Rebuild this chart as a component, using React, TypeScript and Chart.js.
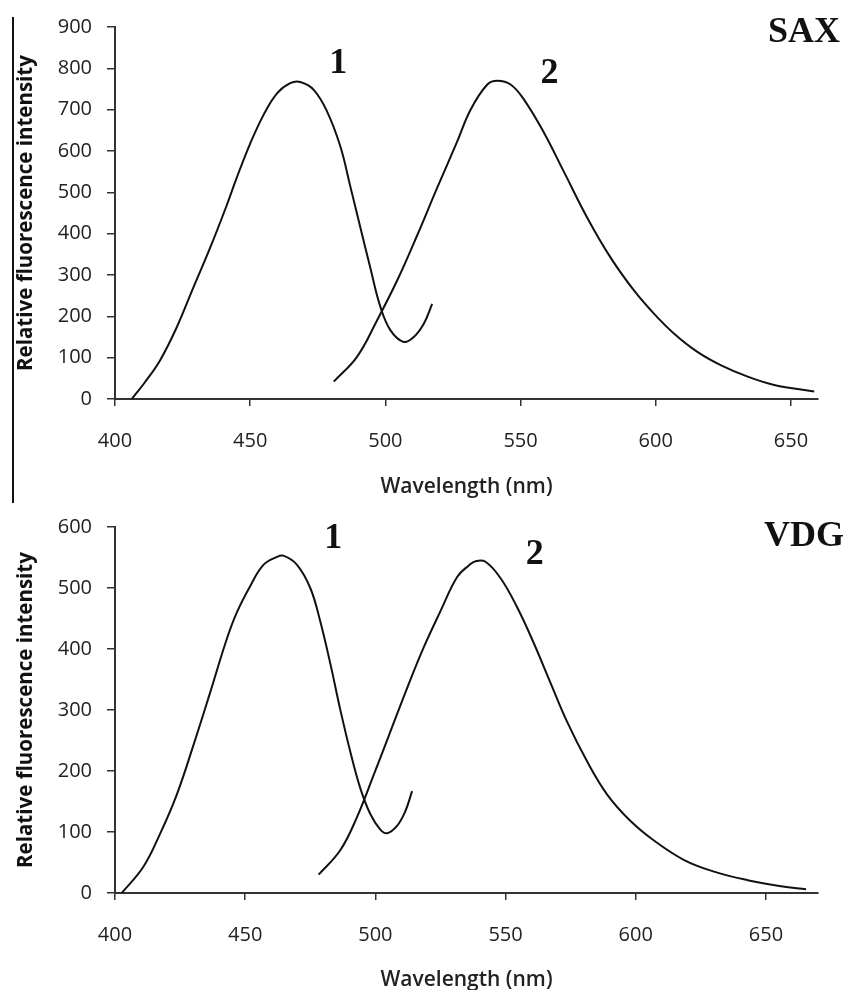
import React, { useEffect, useRef } from "react";
import { Chart, registerables } from "chart.js";

Chart.register(...registerables);

// ---- SAX (top panel) ----
const saxExWavelength = [406.2, 411, 416.7, 422.8, 429, 435.2, 441.4, 445, 450, 455, 460, 464.8, 468.5, 473.5, 478.4, 483.3, 487, 490.7, 494.4, 498.1, 501.9, 506.8, 510.5, 514.2, 517.3];
const saxExIntensity = [0, 40, 94, 173, 270, 366, 470, 535, 618, 688, 740, 764, 767, 748, 696, 612, 515, 416, 318, 224, 166, 138, 150, 182, 230];
const saxEmWavelength = [480.9, 489.5, 496.9, 504.3, 511.7, 519.1, 526.5, 531.5, 537.7, 541.4, 546.3, 551.2, 558.6, 566, 574.7, 583.3, 592, 599.4, 606.8, 615.4, 624, 634, 643.8, 658.6];
const saxEmIntensity = [42, 102, 190, 286, 395, 510, 622, 700, 761, 770, 761, 725, 645, 550, 438, 342, 262, 206, 158, 114, 82, 54, 34, 18];

// ---- VDG (bottom panel) ----
const vdgExWavelength = [402.6, 410.9, 417.3, 423.7, 430.1, 436.5, 442.9, 446.8, 451.9, 457, 462.2, 464.7, 469.9, 475, 478.8, 482.7, 486.5, 490.4, 494.2, 498.1, 501.9, 504.5, 508.3, 511.5, 514.1];
const vdgExIntensity = [0, 43, 97, 161, 242, 328, 416, 460, 503, 538, 551, 553, 538, 500, 446, 376, 301, 231, 172, 129, 104, 98, 110, 134, 167];
const vdgEmWavelength = [478.2, 486.5, 492.9, 499.4, 505.8, 512.2, 518.6, 525, 531.4, 535.9, 538.5, 542.3, 548.1, 554.5, 560.9, 567.3, 573.7, 581.4, 589.1, 598, 607, 618.6, 630.1, 643, 655.8, 665.4];
const vdgEmIntensity = [30, 70, 124, 194, 265, 336, 403, 462, 518, 537, 544, 543, 516, 468, 409, 344, 280, 215, 161, 118, 86, 54, 35, 21, 11, 6];

const xTitle = "Wavelength (nm)";
const yTitle = "Relative fluorescence intensity";

// text annotations, placed in data coordinates
const saxNotes = [
  { text: "1", x: 482.6, y: 811 },
  { text: "2", x: 560.7, y: 787 },
  { text: "SAX", x: 654.8, y: 886 },
];
const vdgNotes = [
  { text: "1", x: 483.8, y: 581 },
  { text: "2", x: 561.2, y: 555 },
  { text: "VDG", x: 664.6, y: 584 },
];

const toPoints = (xs: number[], ys: number[]) => xs.map((x, i) => ({ x, y: ys[i] }));

const notePlugin = {
  id: "notes",
  afterDraw(chart: any) {
    const notes = chart.options.plugins.notes?.items || [];
    const ctx = chart.ctx;
    ctx.save();
    ctx.fillStyle = "#111";
    ctx.font = 'bold 36px "Liberation Serif"';
    ctx.textAlign = "center";
    ctx.textBaseline = "middle";
    for (const n of notes) {
      ctx.fillText(n.text, chart.scales.x.getPixelForValue(n.x), chart.scales.y.getPixelForValue(n.y));
    }
    ctx.restore();
  },
};

function makeConfig(opts: {
  ex: { x: number; y: number }[];
  em: { x: number; y: number }[];
  xMax: number;
  yMax: number;
  padTop: number;
  xAxisHeight: number;
  xTitlePadBottom: number;
  notes: any[];
}) {
  const axisColor = "#333";
  const tickFont = { family: "'Open Sans'", size: 20 };
  const line = {
    borderColor: "#111",
    borderWidth: 2,
    pointRadius: 0,
    tension: 0.4,
    fill: false,
  };
  return {
    type: "line",
    data: {
      datasets: [
        { ...line, data: opts.ex },
        { ...line, data: opts.em },
      ],
    },
    options: {
      responsive: false,
      animation: false,
      events: [],
      layout: { padding: { left: 0, right: 28, top: opts.padTop, bottom: 0 } },
      plugins: {
        legend: { display: false },
        tooltip: { enabled: false },
        notes: { items: opts.notes },
      },
      scales: {
        x: {
          type: "linear",
          min: 400,
          max: opts.xMax,
          afterFit: (s: any) => { s.height = opts.xAxisHeight; },
          ticks: { stepSize: 50, includeBounds: false, color: "#222", font: tickFont, padding: 23, maxRotation: 0 },
          grid: { drawOnChartArea: false, drawTicks: true, tickLength: 7, color: axisColor, lineWidth: 1.5 },
          border: { display: true, color: axisColor, width: 2 },
          title: {
            display: true,
            text: xTitle,
            color: "#222",
            font: { family: "'Open Sans'", size: 21, weight: "600" },
            padding: { top: 0, bottom: opts.xTitlePadBottom },
          },
        },
        y: {
          type: "linear",
          min: 0,
          max: opts.yMax,
          afterFit: (s: any) => { s.width = 115; },
          ticks: { stepSize: 100, color: "#222", font: tickFont, padding: 15 },
          grid: { drawOnChartArea: false, drawTicks: true, tickLength: 8, color: axisColor, lineWidth: 1.5 },
          border: { display: true, color: axisColor, width: 2 },
          title: {
            display: true,
            text: yTitle,
            color: "#111",
            font: { family: "'Open Sans'", size: 20.5, weight: "bold" },
            padding: { top: 14, bottom: 0 },
          },
        },
      },
    },
    plugins: [notePlugin],
  } as any;
}

export default function App() {
  const topRef = useRef<HTMLCanvasElement>(null);
  const botRef = useRef<HTMLCanvasElement>(null);

  useEffect(() => {
    const top = new Chart(
      topRef.current!,
      makeConfig({
        ex: toPoints(saxExWavelength, saxExIntensity),
        em: toPoints(saxEmWavelength, saxEmIntensity),
        xMax: 660,
        yMax: 900,
        padTop: 24,
        xAxisHeight: 101,
        xTitlePadBottom: 0,
        notes: saxNotes,
      })
    );
    const bot = new Chart(
      botRef.current!,
      makeConfig({
        ex: toPoints(vdgExWavelength, vdgExIntensity),
        em: toPoints(vdgEmWavelength, vdgEmIntensity),
        xMax: 670,
        yMax: 600,
        padTop: 22,
        xAxisHeight: 97,
        xTitlePadBottom: -3,
        notes: vdgNotes,
      })
    );
    return () => {
      top.destroy();
      bot.destroy();
    };
  }, []);

  return (
    <div style={{ position: "absolute", left: 0, top: 0, width: 846, height: 990, background: "#fff" }}>
      <div style={{ position: "absolute", left: 12, top: 17, width: 1.5, height: 486, background: "#111" }} />
      <canvas ref={topRef} width={846} height={500} style={{ position: "absolute", left: 0, top: 0, width: 846, height: 500 }} />
      <canvas ref={botRef} width={846} height={490} style={{ position: "absolute", left: 0, top: 500, width: 846, height: 490 }} />
    </div>
  );
}
